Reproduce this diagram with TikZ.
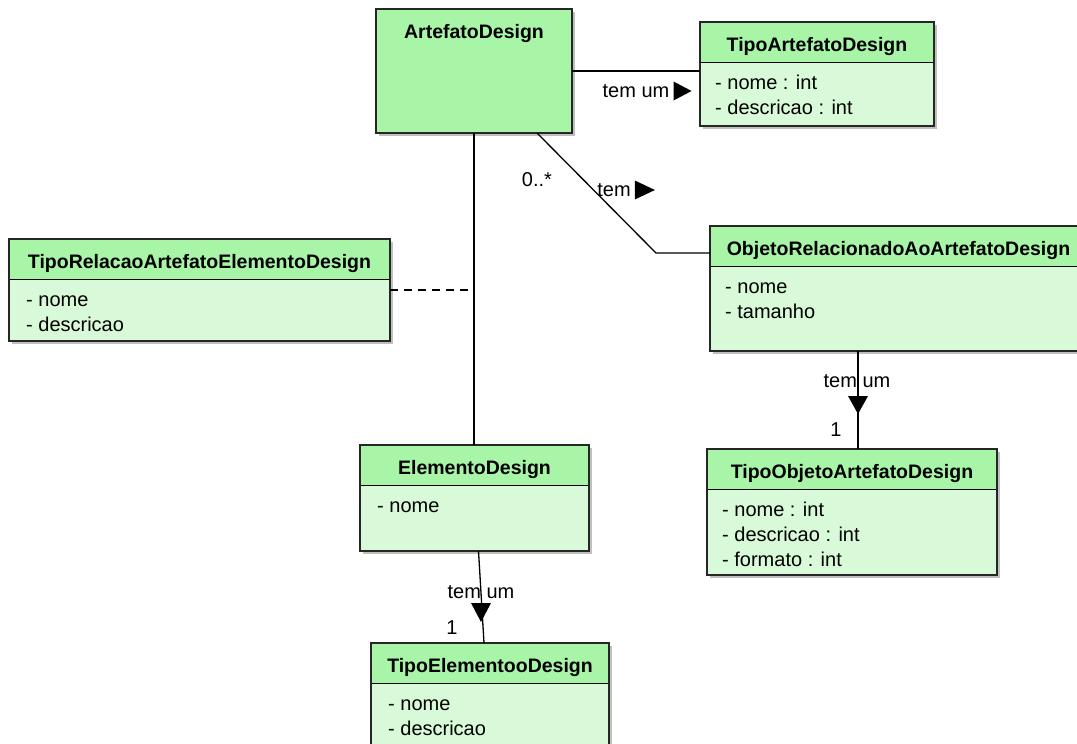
\documentclass[tikz,border=0pt]{standalone}
\usepackage{fontspec}
\setmainfont{Liberation Sans}
\usetikzlibrary{backgrounds}

\definecolor{verdetesta}{HTML}{A8F5A8}
\definecolor{verdecorpo}{HTML}{D8FAD8}
\newcommand{\fonttitolo}{\fontsize{19.5}{25}\selectfont\bfseries}
\newcommand{\fontattr}{\fontsize{20}{25}\selectfont}
\newcommand{\riga}{\rule{0pt}{15pt}}
\newcommand{\classecornice}[2]{%
  \draw[cornice] (#1.north west) rectangle (#2.south east);
  \begin{scope}[on background layer]
    \fill[ombra] ([shift={(3,3)}]#1.north west) rectangle ([shift={(3,3)}]#2.south east);
  \end{scope}}

\tikzset{
  testa/.style={rectangle,draw,line width=1pt,fill=verdetesta,anchor=north west,minimum height=40pt,outer sep=0pt,font=\fonttitolo,text height=19pt,text depth=0pt},
  corpo/.style={rectangle,draw,line width=1pt,fill=verdecorpo,anchor=north west,outer sep=0pt},
  attr/.style={anchor=north west,align=left,inner sep=0pt,font=\fontattr},
  cornice/.style={line width=2.6pt,draw=black!85},
  ombra/.style={fill=black!25},
  etich/.style={font=\fontattr,inner sep=0pt},
  assoc/.style={line width=1.3pt}
}

\begin{document}
\begin{tikzpicture}[x=1pt,y=-1pt]
    \useasboundingbox (0,0) rectangle (1077,744);
    \begin{scope}[on background layer]
      \fill[white] (0,0) rectangle (1077,744);
    \end{scope}

    % ArtefatoDesign
    \draw
    (376,9)node[testa,minimum width=196pt,minimum height=124pt](ad){}
    (ad.north)node[testa,anchor=north,draw=none,fill=none,minimum width=0pt](adt){ArtefatoDesign}
    ;
    \classecornice{ad}{ad}

    % TipoArtefatoDesign
    \draw
    (700,22)node[testa,minimum width=234pt](ta){TipoArtefatoDesign}
    (ta.south west)node[corpo,minimum width=234pt,minimum height=64pt](tab){}
    ([shift={(15,12.5)}]tab.north west)node[attr]{\riga- nome : int\\- descricao : int}
    ;
    \classecornice{ta}{tab}

    % ObjetoRelacionadoAoArtefatoDesign
    \draw
    (710,226)node[testa,minimum width=377pt](ob){ObjetoRelacionadoAoArtefatoDesign}
    (ob.south west)node[corpo,minimum width=377pt,minimum height=85pt](obb){}
    ([shift={(15,12.5)}]obb.north west)node[attr]{\riga- nome\\- tamanho}
    ;
    \classecornice{ob}{obb}

    % TipoRelacaoArtefatoElementoDesign
    \draw
    (9,239)node[testa,minimum width=381pt](tr){TipoRelacaoArtefatoElementoDesign}
    (tr.south west)node[corpo,minimum width=381pt,minimum height=62pt](trb){}
    ([shift={(17,12.5)}]trb.north west)node[attr]{\riga- nome\\- descricao}
    ;
    \classecornice{tr}{trb}

    % ElementoDesign
    \draw
    (360,445)node[testa,minimum width=229pt](el){ElementoDesign}
    (el.south west)node[corpo,minimum width=229pt,minimum height=66pt](elb){}
    ([shift={(17,12.5)}]elb.north west)node[attr]{\riga- nome}
    ;
    \classecornice{el}{elb}

    % TipoObjetoArtefatoDesign
    \draw
    (707,449)node[testa,minimum width=290pt](to){TipoObjetoArtefatoDesign}
    (to.south west)node[corpo,minimum width=290pt,minimum height=86pt](tob){}
    ([shift={(15,12)}]tob.north west)node[attr]{\riga- nome : int\\- descricao : int\\- formato : int}
    ;
    \classecornice{to}{tob}

    % TipoElementooDesign
    \draw
    (371,643)node[testa,minimum width=238pt](te){TipoElementooDesign}
    (te.south west)node[corpo,minimum width=238pt,minimum height=90pt](teb){}
    ([shift={(17,12)}]teb.north west)node[attr]{\riga- nome\\- descricao}
    ;
    \classecornice{te}{teb}

    % associazioni
    \draw[assoc] (ad.east) -- (ad.east -| ta.west);
    \node[etich] (l1) at (636,91) {tem um};
    \fill (l1.east) ++(4,-9.5) -- ++(0,19) -- ++(18,-9.5) -- cycle;

    \coordinate (gomito) at (656,253);
    \draw[assoc] ([xshift=63pt]ad.south) -- (gomito) -- (gomito -| ob.west);
    \node[etich] (m1) at (537,180) {0..*};
    \node[etich] (l2) at (614,190) {tem};
    \fill (l2.east) ++(4,-9.5) -- ++(0,19) -- ++(20,-9.5) -- cycle;

    \draw[assoc] (ad.south) -- (ad.south |- el.north);
    \coordinate (trattino) at (468,290);
    \draw[assoc,dash pattern=on 8pt off 6pt] (trattino -| trb.east) -- (trattino);

    \coordinate (attacco) at ([xshift=6pt]to.north);
    \draw[assoc] (attacco |- obb.south) -- (attacco);
    \node[etich] (l3) at (857,381) {tem um};
    \fill (848,396) -- (868,396) -- (858,414) -- cycle;
    \node[etich] (m2) at (836,430) {1};

    \draw[assoc] ([xshift=4pt]elb.south) -- ([xshift=-6pt]te.north);
    \node[etich] (l4) at (481,592) {tem um};
    \fill (471,603) -- (491,603) -- (481,622) -- cycle;
    \node[etich] (m3) at (452,628) {1};
\end{tikzpicture}
\end{document}
